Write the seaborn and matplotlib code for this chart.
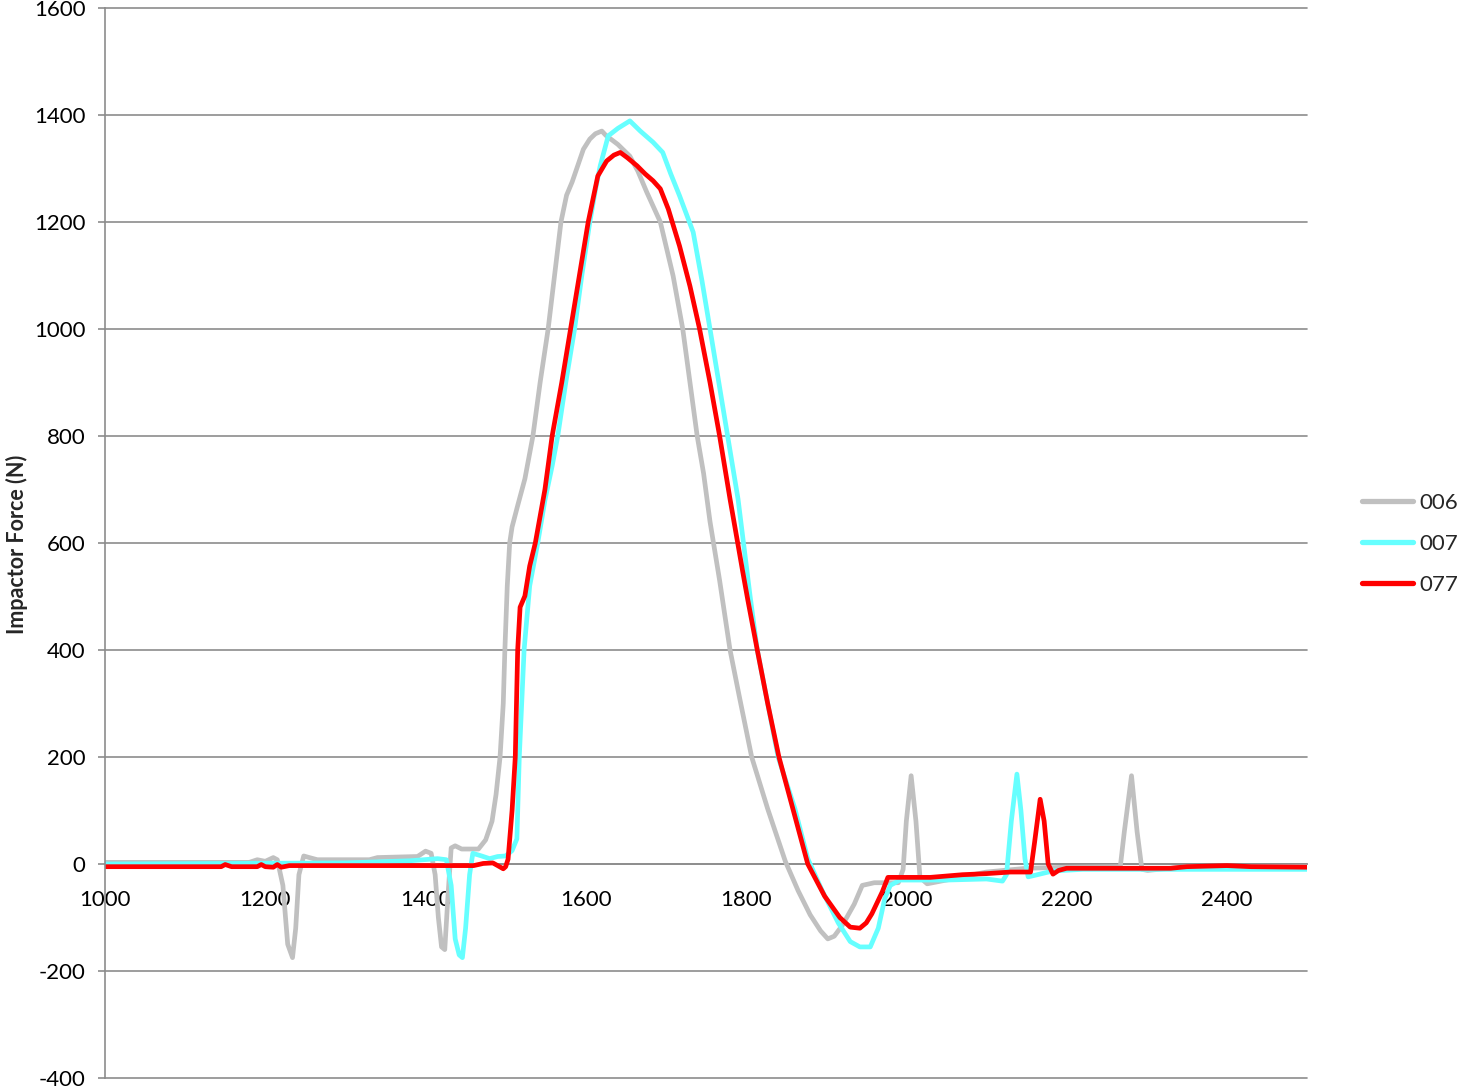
import matplotlib
matplotlib.use("Agg")
import matplotlib.pyplot as plt
import seaborn as sns
import pandas as pd

# ---- data ----
x_006 = [1000, 1180, 1190, 1200, 1210, 1215, 1222, 1228, 1234, 1238, 1242, 1248, 1255, 1265,
         1330, 1340, 1390, 1400, 1407, 1412, 1416, 1420, 1424, 1428, 1432, 1437, 1445, 1466,
         1475, 1483, 1488, 1493, 1497, 1499, 1502, 1505, 1508, 1515, 1524, 1534, 1543, 1553,
         1561, 1569, 1576, 1583, 1597, 1605, 1612, 1620, 1625, 1640, 1655, 1665, 1676, 1693,
         1709, 1721, 1730, 1739, 1747, 1755, 1767, 1780, 1792, 1807, 1827, 1849, 1865, 1880,
         1893, 1902, 1910, 1920, 1935, 1945, 1960, 1990, 1996, 2000, 2006, 2012, 2017, 2026,
         2050, 2100, 2150, 2200, 2267, 2272, 2281, 2288, 2294, 2301, 2350, 2500]
y_006 = [3, 3, 8, 5, 12, 8, -40, -150, -175, -120, -20, 15, 12, 8,
         8, 12, 14, 24, 20, -20, -100, -155, -160, -60, 30, 34, 28, 28,
         45, 80, 130, 200, 300, 400, 520, 600, 630, 670, 720, 800, 900, 1000,
         1100, 1200, 1250, 1275, 1336, 1355, 1365, 1370, 1362, 1345, 1323, 1295, 1256, 1200,
         1099, 1000, 900, 800, 730, 640, 530, 400, 310, 200, 103, 5, -50, -95,
         -125, -140, -135, -115, -75, -40, -35, -35, -10, 80, 165, 80, -25, -37,
         -30, -15, -8, -6, -5, 60, 165, 60, -10, -12, -5, -5]

x_007 = [1000, 1300, 1380, 1415, 1426, 1432, 1437, 1442, 1446, 1450, 1455, 1459, 1470, 1480,
         1490, 1500, 1508, 1514, 1517, 1520, 1523, 1530, 1540, 1549, 1558, 1565, 1575, 1586,
         1595, 1605, 1612, 1618, 1628, 1640, 1655, 1668, 1684, 1696, 1706, 1717, 1734, 1745,
         1755, 1766, 1777, 1790, 1805, 1814, 1827, 1840, 1861, 1877, 1895, 1915, 1930, 1942,
         1955, 1965, 1973, 1980, 1992, 2050, 2100, 2120, 2125, 2131, 2138, 2143, 2148, 2152,
         2158, 2183, 2220, 2500]
y_007 = [0, 2, 6, 10, 8, -40, -140, -170, -175, -120, -20, 20, 15, 10,
         14, 15, 25, 47, 200, 300, 400, 520, 600, 680, 744, 800, 900, 1000,
         1100, 1200, 1260, 1305, 1361, 1375, 1389, 1370, 1349, 1330, 1290, 1249, 1181, 1090,
         1000, 900, 800, 682, 501, 400, 300, 200, 103, 10, -50, -110, -145, -155,
         -155, -120, -65, -40, -30, -30, -28, -32, -20, 80, 168, 100, 10, -24,
         -22, -13, -10, -10]

x_077 = [1000, 1145, 1150, 1158, 1190, 1195, 1200, 1210, 1215, 1220, 1230, 1460, 1472, 1484,
         1490, 1497, 1500, 1503, 1508, 1512, 1515, 1518, 1524, 1530, 1537, 1549, 1558, 1570,
         1581, 1592, 1603, 1615, 1626, 1635, 1643, 1652, 1664, 1674, 1684, 1693, 1703, 1717,
         1730, 1742, 1755, 1767, 1780, 1796, 1802, 1814, 1827, 1841, 1859, 1877, 1898, 1917,
         1930, 1942, 1950, 1957, 1970, 1977, 2030, 2070, 2100, 2130, 2155, 2160, 2167, 2172,
         2177, 2183, 2190, 2200, 2330, 2350, 2400, 2430, 2500]
y_077 = [-5, -5, -1, -5, -5, -1, -5, -6, -1, -6, -3, -3, 1, 2,
         -3, -9, -5, 9, 100, 200, 400, 480, 501, 557, 600, 700, 800, 900,
         1000, 1100, 1200, 1286, 1314, 1325, 1330, 1320, 1305, 1290, 1277, 1262, 1224, 1155,
         1080, 1000, 900, 800, 682, 545, 495, 400, 300, 200, 100, 0, -60, -100,
         -118, -120, -110, -93, -52, -25, -25, -20, -18, -15, -15, 40, 121, 80,
         0, -19, -12, -8, -8, -5, -3, -5, -6]

series_names = ["006", "007", "077"]
series_colors = ["#C0C0C0", "#66FFFF", "#FF0000"]
x_ticks = [1000, 1200, 1400, 1600, 1800, 2000, 2200, 2400]
y_ticks = [-400, -200, 0, 200, 400, 600, 800, 1000, 1200, 1400, 1600]
y_label = "Impactor Force (N)"

frames = []
for name, xs, ys in zip(series_names, [x_006, x_007, x_077], [y_006, y_007, y_077]):
    frames.append(pd.DataFrame({"Time": xs, "Force": ys, "Series": name}))
df = pd.concat(frames, ignore_index=True)

sns.set_style("white")
plt.rcParams["font.family"] = ["Lato", "DejaVu Sans"]
plt.rcParams["axes.unicode_minus"] = False

fig = plt.figure(figsize=(14.57, 10.90), dpi=100)
ax = fig.add_axes([105 / 1457, 12 / 1090, 1202 / 1457, 1070 / 1090])

sns.lineplot(data=df, x="Time", y="Force", hue="Series", hue_order=series_names,
             palette=dict(zip(series_names, series_colors)), estimator=None, sort=False,
             linewidth=3.4, ax=ax, legend=True)

ax.set_xlim(1000, 2500)
ax.set_ylim(-400, 1600)
ax.set_xticks(x_ticks)
ax.set_yticks(y_ticks)
ax.set_xticklabels([str(t) for t in x_ticks])
ax.set_yticklabels([str(t) for t in y_ticks])
ax.set_xlabel("")
ax.set_ylabel(y_label, fontsize=15.5, fontweight="bold")
ax.yaxis.set_label_coords((28 - 105) / 1202, (1090 - 544 - 12) / 1070)

gcol = "#8C8C8C"
ax.yaxis.grid(True, color=gcol, linewidth=1.2)
ax.xaxis.grid(False)
ax.set_axisbelow(True)
for g in ax.get_ygridlines():
    g.set_clip_on(False)

ax.spines["top"].set_visible(False)
ax.spines["right"].set_visible(False)
ax.spines["left"].set_color(gcol)
ax.spines["left"].set_linewidth(1.2)
ax.spines["bottom"].set_position(("data", 0))
ax.spines["bottom"].set_color(gcol)
ax.spines["bottom"].set_linewidth(1.2)
ax.spines["bottom"].set_zorder(0.5)

ax.tick_params(axis="x", direction="out", length=4, width=1.2, color=gcol, pad=15,
               labelsize=16, labelcolor="black")
ax.tick_params(axis="y", direction="out", length=5, width=1.2, color=gcol, pad=9,
               labelsize=16, labelcolor="black", left=True)

handles, labels = ax.get_legend_handles_labels()
ax.legend(handles, labels, loc="center left", bbox_to_anchor=(1362 / 1457, 1 - 544 / 1090),
          bbox_transform=fig.transFigure, frameon=False, fontsize=16, handlelength=2.3,
          handletextpad=0.3, labelspacing=0.95, borderaxespad=0, borderpad=0)
for lh in ax.get_legend().get_lines():
    lh.set_linewidth(3.8)

fig.savefig("out.png", dpi=100)
